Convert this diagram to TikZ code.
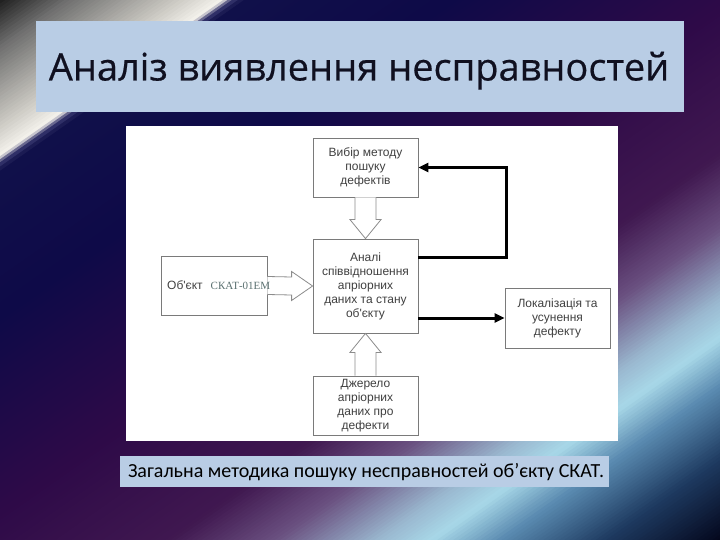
\documentclass[tikz,border=0pt]{standalone}
\usepackage{fontspec}
\usetikzlibrary{calc,arrows.meta}
\newfontfamily\titlefont[FakeBold=0.5]{Open Sans}
\newfontfamily\capfont{Carlito}
\newfontfamily\diafont{Liberation Sans}
\newfontfamily\serffont{Liberation Serif}
\definecolor{bgA}{HTML}{1E1E1E}
\definecolor{bgB}{HTML}{707070}
\definecolor{bgC}{HTML}{C8C6C0}
\definecolor{bgD}{HTML}{F4F2EC}
\definecolor{bgE}{HTML}{3A3A70}
\definecolor{bgF}{HTML}{10104A}
\definecolor{bgG}{HTML}{0E0A48}
\definecolor{bgH}{HTML}{2E0A48}
\definecolor{bgI}{HTML}{401850}
\definecolor{bgJ}{HTML}{6A5080}
\definecolor{bgK}{HTML}{9AB8D0}
\definecolor{bgL}{HTML}{A8D8E8}
\definecolor{bgM}{HTML}{5A8AB0}
\definecolor{bgN}{HTML}{1E3A60}
\definecolor{bgO}{HTML}{020418}
\definecolor{bannerblue}{HTML}{B9CDE5}
\definecolor{boxgray}{HTML}{7A7A7A}
\definecolor{arrgray}{HTML}{8C8C8C}
\definecolor{dtext}{HTML}{404040}
\definecolor{skatcol}{HTML}{5A7070}
\definecolor{titletext}{HTML}{101020}
\begin{document}
\begin{tikzpicture}[x=1pt,y=-1pt,
  box/.style={draw=boxgray, line width=0.8pt, fill=white, minimum width=105pt,
    minimum height=59pt, inner sep=2pt, align=center,
    font=\diafont\fontsize{12}{14}\selectfont, text=dtext},
  blockarr/.style={draw=arrgray, line width=0.8pt, fill=white, line join=miter},
  fb/.style={line width=3pt, -{Triangle[length=10pt,width=9pt]}},
  banner/.style={fill=bannerblue}
]
\useasboundingbox (0,0) rectangle (720,540);
% background
\begin{scope}
\clip (0,0) rectangle (720,540);
\begin{scope}[rotate=-55]
\foreach \a/\b/\ca/\cb in {0/40/bgA/bgB, 40/100/bgB/bgC, 100/128/bgC/bgD, 128/133/bgD/bgE,
  133/140/bgE/bgF, 140/260/bgF/bgG, 260/420/bgG/bgH, 420/540/bgH/bgI, 540/600/bgI/bgJ,
  600/660/bgJ/bgK, 660/690/bgK/bgL, 690/730/bgL/bgM, 730/790/bgM/bgN, 790/860/bgN/bgO}{
  \pgfmathtruncatemacro\bgNum{max(1,round((\b-\a)/3))}
  \pgfmathsetmacro\bgDel{(\b-\a)/\bgNum}
  \foreach \i in {1,...,\bgNum}{
    \pgfmathsetmacro\bgT{\a+(\i-1)*\bgDel}
    \pgfmathtruncatemacro\bgP{100-100*(\i-0.5)/\bgNum}
    \fill[\ca!\bgP!\cb] (\bgT,-900) rectangle ({\bgT+\bgDel+0.8},900);
  }
}
\end{scope}
\end{scope}
% banners and panel
\fill[banner] (36,21) rectangle (684,112);
\node[anchor=base, inner sep=0, font=\titlefont\fontsize{38}{44}\selectfont, text=titletext]
  (title) at (359,80.5) {Аналіз виявлення несправностей};
\fill[white] (126,126) rectangle (618,441);
\fill[banner] (120,456) rectangle (609,487);
\node[anchor=base, inner sep=0, font=\capfont\fontsize{20}{22}\selectfont, text=black]
  (caption) at (366,477) {Загальна методика пошуку несправностей об’єкту СКАТ.};
% boxes
\node[box] (top) at (365.5,167.5) {Вибір методу\\пошуку\\дефектів};
\node[box, minimum height=94pt] (center) at (365.5,286) {Аналі\\співвідношення\\апріорних\\даних та стану\\об'єкту};
\node[box, minimum width=106pt] (left) at (214,285.5) {};
\node[box, minimum height=60pt] (right) at (557.5,318) {Локалізація та\\усунення\\дефекту};
\node[box] (bottom) at (365.5,405.5) {Джерело\\апріорних\\даних про\\дефекти};
% block arrows
\filldraw[blockarr] ($(top.south)+(-10.5,0)$) -- ($(center.north)+(-10.5,-19)$)
  -- ($(center.north)+(-15.5,-19)$) -- (center.north) -- ($(center.north)+(15.5,-19)$)
  -- ($(center.north)+(10.5,-19)$) -- ($(top.south)+(10.5,0)$);
\filldraw[blockarr] ($(bottom.north)+(-10.5,0)$) -- ($(center.south)+(-10.5,19)$)
  -- ($(center.south)+(-15.5,19)$) -- (center.south) -- ($(center.south)+(15.5,19)$)
  -- ($(center.south)+(10.5,19)$) -- ($(bottom.north)+(10.5,0)$);
\filldraw[blockarr] ($(left.east)+(0,-9)$) -- ($(center.west)+(-21,-9)$)
  -- ($(center.west)+(-21,-14.5)$) -- (center.west) -- ($(center.west)+(-21,14.5)$)
  -- ($(center.west)+(-21,9)$) -- ($(left.east)+(0,9)$);
% object label
\node[anchor=base west, inner sep=0, font=\diafont\fontsize{12}{14}\selectfont, text=dtext]
  (objlabel) at (167,289) {Об'єкт\hspace{8pt}{\serffont\fontsize{11}{13}\selectfont\color{skatcol}СКАТ-01ЕМ}};
% feedback arrows
\draw[fb] ($(center.north east)+(0,19)$) -- ++(88,0) |- (top.east);
\draw[fb] ($(center.east)+(0,32)$) -- (right.west);
\end{tikzpicture}
\end{document}
